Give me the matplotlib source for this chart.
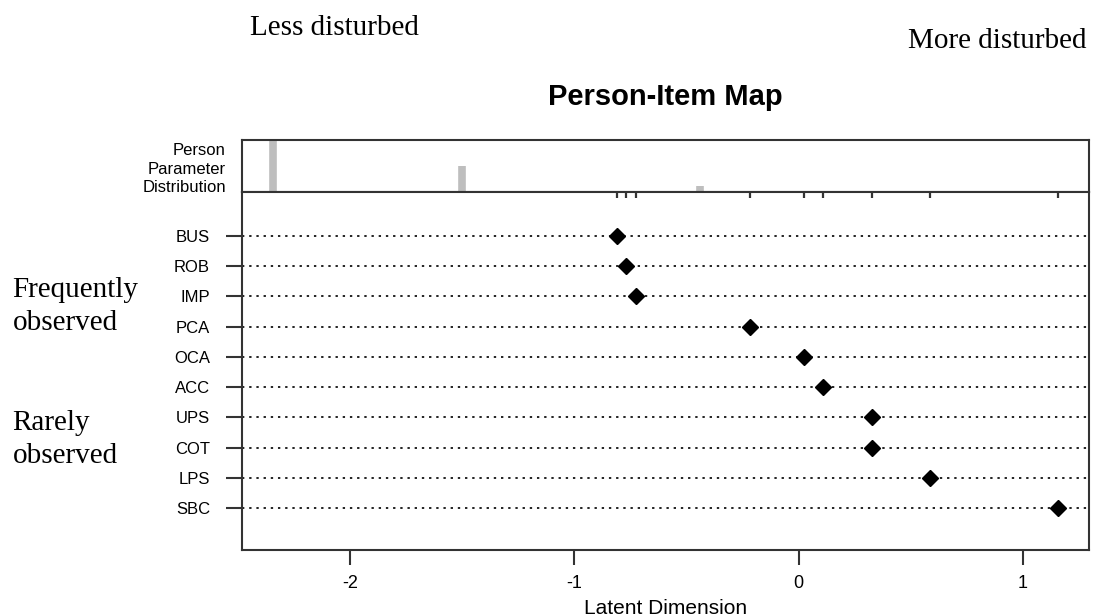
import numpy as np
import matplotlib
matplotlib.use('Agg')
import matplotlib.pyplot as plt

# item locations (latent dimension)
items = ['BUS', 'ROB', 'IMP', 'PCA', 'OCA', 'ACC', 'UPS', 'COT', 'LPS', 'SBC']
locations = [-0.81, -0.77, -0.725, -0.215, 0.025, 0.11, 0.325, 0.325, 0.585, 1.155]

# person parameter distribution
person_params = [-2.345, -1.50, -0.44]
person_counts = [8, 4, 1]

x_ticks = [-2, -1, 0, 1]

sans = 'Liberation Sans'
serif = 'Liberation Serif'
frame = '#333333'

fig = plt.figure(figsize=(10.93, 6.16), dpi=100, facecolor='white')
ax_top = fig.add_axes([0.2214, 0.6883, 0.7749, 0.0844])
ax = fig.add_axes([0.2214, 0.1071, 0.7749, 0.5812])

xlim = (-2.482, 1.294)

# person histogram
ax_top.vlines(person_params, 0, person_counts, color='#bebebe', linewidth=5.5)
ax_top.set_xlim(xlim)
ax_top.set_ylim(0, max(person_counts))
ax_top.set_xticks([])
ax_top.set_yticks([])
ax_top.text(-0.019, 0.44, 'Person\nParameter\nDistribution', transform=ax_top.transAxes,
            ha='right', va='center', fontsize=12, family=sans, linespacing=1.3)
ax_top.set_title('Person-Item Map', fontsize=21, fontweight='bold', family=sans, pad=25)

# item map
rows = np.arange(len(items))
for r in rows:
    ax.axhline(r, color='#222222', linewidth=1.4, linestyle=(0, (1.2, 2.5)), zorder=1)
ax.plot(locations, rows, linestyle='none', marker='D', markersize=8, color='black', zorder=3)
ax.vlines(sorted(set(locations)), 0.982, 1, transform=ax.get_xaxis_transform(),
          color=frame, linewidth=1.6)

ax.set_xlim(xlim)
ax.set_ylim(len(items) - 1 + 1.39, -1.457)
ax.set_yticks(rows, items)
ax.set_xticks(x_ticks, [str(t) for t in x_ticks])
ax.tick_params(axis='y', length=11.5, width=1.5, color=frame, pad=11.5, labelsize=12)
ax.tick_params(axis='x', length=11, width=1.5, color=frame, pad=7, labelsize=13)
for lab in ax.get_xticklabels() + ax.get_yticklabels():
    lab.set_family(sans)
ax.set_xlabel('Latent Dimension', fontsize=15, family=sans, labelpad=5)

for a in (ax, ax_top):
    for s in a.spines.values():
        s.set_color(frame)
        s.set_linewidth(1.5)

# annotations around the map
fig.text(0.2287, 1 - 35 / 616, 'Less disturbed', fontsize=21, family=serif, va='baseline')
fig.text(0.8307, 1 - 48 / 616, 'More disturbed', fontsize=21, family=serif, va='baseline')
fig.text(0.0116, 1 - 330 / 616, 'Frequently\nobserved', fontsize=21, family=serif,
         va='baseline', linespacing=1.36)
fig.text(0.0116, 1 - 463 / 616, 'Rarely\nobserved', fontsize=21, family=serif,
         va='baseline', linespacing=1.36)

fig.savefig('out.png', dpi=100, facecolor='white')
